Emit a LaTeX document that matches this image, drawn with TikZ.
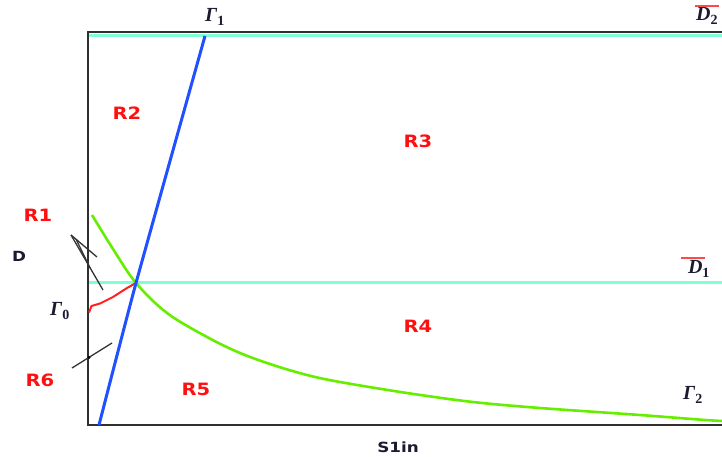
\documentclass[tikz,border=0pt]{standalone}
\usepackage{fontspec}
\setmainfont{Liberation Serif}
\newfontfamily\lblfont{DejaVu Sans}
\definecolor{lblred}{HTML}{FF1010}
\definecolor{ink}{HTML}{1A1A30}
\definecolor{framegray}{HTML}{303030}
\definecolor{aqua}{HTML}{7FFFD4}
\definecolor{curveblue}{HTML}{2050FF}
\definecolor{curvegreen}{HTML}{66EE00}
\definecolor{curvered}{HTML}{FF2020}
\definecolor{barred}{HTML}{FF4A4A}
\tikzset{
  region/.style={text=lblred, font=\lblfont\bfseries\fontsize{17}{17}\selectfont, xscale=1.15, inner sep=0pt},
  sym/.style={text=ink, font=\bfseries\itshape\fontsize{20}{20}\selectfont, inner sep=0pt},
  axislbl/.style={text=ink, font=\lblfont\bfseries\fontsize{14}{14}\selectfont, xscale=1.2, inner sep=0pt},
  framestyle/.style={draw=framegray, line width=2pt},
  aquastyle/.style={draw=aqua, line width=3pt},
  pointer/.style={draw=black!80, line width=1.3pt},
  barstyle/.style={draw=barred, line width=2pt},
}
\begin{document}
\begin{tikzpicture}[x=1pt,y=-1pt]
\useasboundingbox (0,0) rectangle (722,457);
% frame
\coordinate (tl) at (88,32.5);
\coordinate (tr) at (724,32.5);
\coordinate (bl) at (88,425);
\coordinate (br) at (724,425);
\coordinate (atl) at (89,35.5);
\coordinate (atr) at (724,35.5);
\coordinate (aml) at (89,282);
\coordinate (amr) at (724,282);
\draw[aquastyle] (atl) -- (atr);
\draw[aquastyle] (aml) -- (amr);
\draw[framestyle] (tr) -- (tl) -- (bl) -- (br);
% green curve Gamma_2
\draw[draw=curvegreen, line width=2.6pt, line join=round]
  plot[smooth, tension=0.55] coordinates {(92,215) (113,249) (136,283) (167,313) (207,337) (240,353) (273,365) (307,375) (340,382) (407,393) (473,402) (540,408) (640,415) (705,420) (724,421)};
% red curve Gamma_0
\draw[draw=curvered, line width=2pt, line join=round]
  (89,312.5) -- (91.5,306) -- (100,303.5) -- (113,297) -- (127,288) -- (136,283);
% blue line Gamma_1
\coordinate (b0) at (99,425);
\coordinate (bx) at (136,283);
\coordinate (b1) at (205,36);
\draw[draw=curveblue, line width=3pt] plot[smooth, tension=0.3] coordinates {(b0) (bx) (b1)};
% pointers
\coordinate (p0) at (71,235);
\coordinate (p1) at (103,290);
\coordinate (p2) at (97,257);
\coordinate (p3) at (76,239);
\coordinate (p4) at (90,268);
\draw[pointer] (p0) -- (p1);
\draw[pointer] (p0) -- (p2);
\draw[pointer] (p3) -- (p4);
\coordinate (q0) at (72,368);
\coordinate (q1) at (112,343);
\draw[pointer] (q0) -- (q1);
\fill[black] (89,357.5) circle (1.6pt);
% region labels
\node[region] (r1) at (38,215) {R1};
\node[region] (r2) at (127,113) {R2};
\node[region] (r3) at (418,141) {R3};
\node[region] (r4) at (418,326) {R4};
\node[region] (r5) at (196,389) {R5};
\node[region] (r6) at (40,380) {R6};
% other labels
\node[axislbl] (d) at (19,256) {D};
\node[axislbl] (s1in) at (398,447) {S1in};
\node[sym] (g0) at (60,311) {Γ\textsubscript{\upshape 0}};
\node[sym] (g1) at (215,17) {Γ\textsubscript{\upshape 1}};
\node[sym] (g2) at (693,395) {Γ\textsubscript{\upshape 2}};
\node[sym] (d1) at (699,269) {D\textsubscript{\upshape 1}};
\node[sym, anchor=west] (d2) at (696,16) {D\textsubscript{\upshape 2}};
% overbars
\coordinate (o1a) at (681,257.5);
\coordinate (o1b) at (705,257.5);
\coordinate (o2a) at (695,6);
\coordinate (o2b) at (719,6);
\draw[barstyle] (o1a) -- (o1b);
\draw[barstyle] (o2a) -- (o2b);
\end{tikzpicture}
\end{document}
